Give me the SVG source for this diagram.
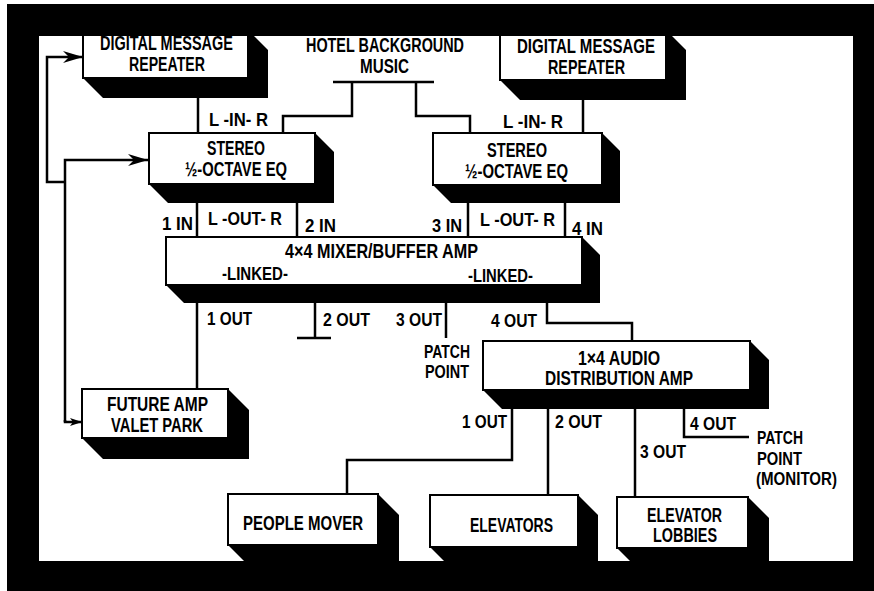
<svg xmlns="http://www.w3.org/2000/svg" width="874" height="591" viewBox="0 0 874 591">
<defs>
<style>
.sh{fill:#000}
.bx{fill:#fff;stroke:#000;stroke-width:2}
.t{font-family:"Liberation Sans",Arial,sans-serif;font-weight:bold;font-size:19px;fill:#000}
.b{font-size:20px}
.ln{fill:none;stroke:#000;stroke-width:2.5;stroke-linejoin:miter}
</style>
<marker id="arr" viewBox="0 0 20 12" refX="20" refY="6" markerWidth="20" markerHeight="12" markerUnits="userSpaceOnUse" orient="auto">
<path d="M0,0 L20,6 L0,12 L6,6 z" fill="#000"/>
</marker>
<marker id="arrs" viewBox="0 0 12 8" refX="12" refY="4" markerWidth="12" markerHeight="8" markerUnits="userSpaceOnUse" orient="auto">
<path d="M0,0 L12,4 L0,8 L3,4 z" fill="#000"/>
</marker>
</defs>
<rect x="0" y="0" width="874" height="591" fill="#fff"/>

<g id="connectors">
<path class="ln" d="M198 98 V133"/>
<path class="ln" d="M333 82 H434" stroke-width="3"/>
<path class="ln" d="M352 82 V116 H283 V133"/>
<path class="ln" d="M416 82 V116 H470 V133"/>
<path class="ln" d="M583 100 V133"/>
<path class="ln" d="M197 203 V237"/>
<path class="ln" d="M297 203 V237"/>
<path class="ln" d="M468 203 V237"/>
<path class="ln" d="M565 203 V237"/>
<path class="ln" d="M197 303 V389"/>
<path class="ln" d="M315 303 V338"/>
<path class="ln" d="M297 338 H331" stroke-width="3"/>
<path class="ln" d="M446 303 V338"/>
<path class="ln" d="M547 303 V323 H632 V341"/>
<path class="ln" d="M512 408 V460 H347 V494"/>
<path class="ln" d="M548 408 V495"/>
<path class="ln" d="M635 408 V497"/>
<path class="ln" d="M684 408 V437 H749"/>
<path class="ln" d="M65 182 H47 V57 H83" marker-end="url(#arr)"/>
<path class="ln" d="M65 422 V160 H148" marker-end="url(#arr)"/>
<path class="ln" d="M65 420 V422 H82" marker-end="url(#arrs)"/>
</g>

<g id="dmr-left">
<polygon class="sh" points="83,78 248,30 268,50 268,98 103,98"/>
<rect class="bx" x="83" y="30" width="165" height="48"/>
<text class="t b" x="100" y="50" textLength="133" lengthAdjust="spacingAndGlyphs">DIGITAL MESSAGE</text>
<text class="t b" x="129" y="71" textLength="76" lengthAdjust="spacingAndGlyphs">REPEATER</text>
</g>

<g id="hotel-music">
<text class="t b" x="306" y="52" textLength="158" lengthAdjust="spacingAndGlyphs">HOTEL BACKGROUND</text>
<text class="t b" x="360" y="73" textLength="49" lengthAdjust="spacingAndGlyphs">MUSIC</text>
</g>

<g id="dmr-right">
<polygon class="sh" points="500,80 666,30 686,50 686,100 520,100"/>
<rect class="bx" x="500" y="30" width="166" height="50"/>
<text class="t b" x="517" y="53" textLength="138" lengthAdjust="spacingAndGlyphs">DIGITAL MESSAGE</text>
<text class="t b" x="548" y="74" textLength="77" lengthAdjust="spacingAndGlyphs">REPEATER</text>
</g>

<g id="labels-in">
<text class="t" x="209" y="126" textLength="59" lengthAdjust="spacingAndGlyphs">L -IN- R</text>
<text class="t" x="503" y="128" textLength="60" lengthAdjust="spacingAndGlyphs">L -IN- R</text>
</g>

<g id="eq-left">
<polygon class="sh" points="149,184 315,133 334,152 334,203 168,203"/>
<rect class="bx" x="149" y="133" width="166" height="51"/>
<text class="t b" x="207" y="155" textLength="58" lengthAdjust="spacingAndGlyphs">STEREO</text>
<text class="t b" x="185" y="176" textLength="102" lengthAdjust="spacingAndGlyphs">½-OCTAVE EQ</text>
</g>

<g id="eq-right">
<polygon class="sh" points="433,185 602,133 620,151 620,203 451,203"/>
<rect class="bx" x="433" y="133" width="169" height="52"/>
<text class="t b" x="487" y="157" textLength="60" lengthAdjust="spacingAndGlyphs">STEREO</text>
<text class="t b" x="465" y="178" textLength="103" lengthAdjust="spacingAndGlyphs">½-OCTAVE EQ</text>
</g>

<g id="labels-mixer-in">
<text class="t" x="162" y="230" textLength="31" lengthAdjust="spacingAndGlyphs">1 IN</text>
<text class="t" x="208" y="225" textLength="74" lengthAdjust="spacingAndGlyphs">L -OUT- R</text>
<text class="t" x="305" y="232" textLength="31" lengthAdjust="spacingAndGlyphs">2 IN</text>
<text class="t" x="432" y="232" textLength="30" lengthAdjust="spacingAndGlyphs">3 IN</text>
<text class="t" x="480" y="226" textLength="75" lengthAdjust="spacingAndGlyphs">L -OUT- R</text>
<text class="t" x="572" y="235" textLength="31" lengthAdjust="spacingAndGlyphs">4 IN</text>
</g>

<g id="mixer">
<polygon class="sh" points="166,285 582,237 600,255 600,303 184,303"/>
<rect class="bx" x="166" y="237" width="416" height="48"/>
<text class="t b" x="285" y="258" textLength="193" lengthAdjust="spacingAndGlyphs">4×4 MIXER/BUFFER AMP</text>
<text class="t" x="222" y="280" textLength="66" lengthAdjust="spacingAndGlyphs">-LINKED-</text>
<text class="t" x="468" y="282" textLength="65" lengthAdjust="spacingAndGlyphs">-LINKED-</text>
</g>

<g id="labels-mixer-out">
<text class="t" x="207" y="325" textLength="45" lengthAdjust="spacingAndGlyphs">1 OUT</text>
<text class="t" x="323" y="326" textLength="47" lengthAdjust="spacingAndGlyphs">2 OUT</text>
<text class="t" x="396" y="326" textLength="46" lengthAdjust="spacingAndGlyphs">3 OUT</text>
<text class="t" x="491" y="327" textLength="46" lengthAdjust="spacingAndGlyphs">4 OUT</text>
<text class="t" x="424" y="358" textLength="46" lengthAdjust="spacingAndGlyphs">PATCH</text>
<text class="t" x="425" y="378" textLength="44" lengthAdjust="spacingAndGlyphs">POINT</text>
</g>

<g id="dist-amp">
<polygon class="sh" points="483,390 750,341 769,360 769,409 502,409"/>
<rect class="bx" x="483" y="341" width="267" height="49"/>
<text class="t b" x="578" y="365" textLength="82" lengthAdjust="spacingAndGlyphs">1×4 AUDIO</text>
<text class="t b" x="545" y="385" textLength="148" lengthAdjust="spacingAndGlyphs">DISTRIBUTION AMP</text>
</g>

<g id="future-amp">
<polygon class="sh" points="82,438 228,389 249,410 249,459 103,459"/>
<rect class="bx" x="82" y="389" width="146" height="49"/>
<text class="t b" x="107" y="411" textLength="101" lengthAdjust="spacingAndGlyphs">FUTURE AMP</text>
<text class="t b" x="111" y="432" textLength="92" lengthAdjust="spacingAndGlyphs">VALET PARK</text>
</g>

<g id="labels-dist-out">
<text class="t" x="462" y="428" textLength="45" lengthAdjust="spacingAndGlyphs">1 OUT</text>
<text class="t" x="555" y="428" textLength="47" lengthAdjust="spacingAndGlyphs">2 OUT</text>
<text class="t" x="640" y="458" textLength="46" lengthAdjust="spacingAndGlyphs">3 OUT</text>
<text class="t" x="690" y="430" textLength="46" lengthAdjust="spacingAndGlyphs">4 OUT</text>
<text class="t" x="757" y="444" textLength="46" lengthAdjust="spacingAndGlyphs">PATCH</text>
<text class="t" x="757" y="465" textLength="45" lengthAdjust="spacingAndGlyphs">POINT</text>
<text class="t" x="756" y="485" textLength="81" lengthAdjust="spacingAndGlyphs">(MONITOR)</text>
</g>

<g id="people-mover">
<polygon class="sh" points="228,545 378,494 399,515 399,566 249,566"/>
<rect class="bx" x="228" y="494" width="150" height="51"/>
<text class="t b" x="243" y="530" textLength="120" lengthAdjust="spacingAndGlyphs">PEOPLE MOVER</text>
</g>

<g id="elevators">
<polygon class="sh" points="430,547 578,495 598,515 598,567 450,567"/>
<rect class="bx" x="430" y="495" width="148" height="52"/>
<text class="t b" x="470" y="532" textLength="83" lengthAdjust="spacingAndGlyphs">ELEVATORS</text>
</g>

<g id="elevator-lobbies">
<polygon class="sh" points="617,548 748,497 769,518 769,569 638,569"/>
<rect class="bx" x="617" y="497" width="131" height="51"/>
<text class="t b" x="647" y="522" textLength="75" lengthAdjust="spacingAndGlyphs">ELEVATOR</text>
<text class="t b" x="653" y="542" textLength="64" lengthAdjust="spacingAndGlyphs">LOBBIES</text>
</g>

<path id="frame" fill="#000" fill-rule="evenodd" d="M7 4 H874 V591 H7 Z M39 36 V561 H853 V36 Z"/>
</svg>
